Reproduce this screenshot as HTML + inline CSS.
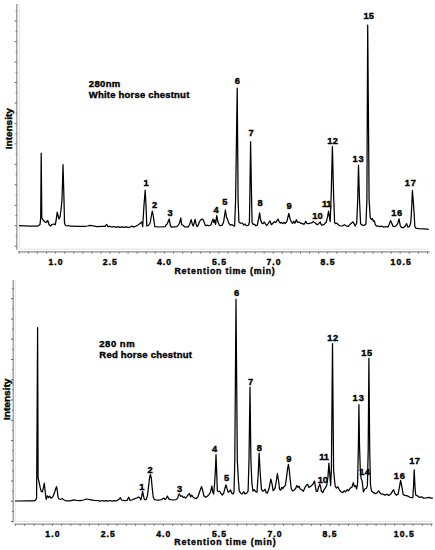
<!DOCTYPE html>
<html><head><meta charset="utf-8"><style>
html,body{margin:0;padding:0;background:#fff;width:435px;height:550px;overflow:hidden}
svg{display:block}
text{font-family:"Liberation Sans",sans-serif;font-weight:bold;fill:#000;stroke:#000;stroke-width:0.38px}
</style></head><body>
<svg width="435" height="550" viewBox="0 0 435 550">
<rect width="435" height="550" fill="#fff"/>
<line x1="19.3" y1="4" x2="19.3" y2="249.1" stroke="#e2e2e2" stroke-width="0.9"/>
<line x1="19.3" y1="249.1" x2="429.5" y2="249.1" stroke="#e4e4e4" stroke-width="1"/>
<line x1="16.8" y1="4" x2="16.8" y2="249.8" stroke="#8c8c8c" stroke-width="1.2"/>
<line x1="15.60" y1="10.9" x2="16.8" y2="10.9" stroke="#666" stroke-width="1"/>
<line x1="14.60" y1="21.1" x2="16.8" y2="21.1" stroke="#666" stroke-width="1"/>
<line x1="15.60" y1="31.4" x2="16.8" y2="31.4" stroke="#666" stroke-width="1"/>
<line x1="14.60" y1="41.6" x2="16.8" y2="41.6" stroke="#666" stroke-width="1"/>
<line x1="15.60" y1="51.8" x2="16.8" y2="51.8" stroke="#666" stroke-width="1"/>
<line x1="14.60" y1="62.1" x2="16.8" y2="62.1" stroke="#666" stroke-width="1"/>
<line x1="15.60" y1="72.3" x2="16.8" y2="72.3" stroke="#666" stroke-width="1"/>
<line x1="14.60" y1="82.5" x2="16.8" y2="82.5" stroke="#666" stroke-width="1"/>
<line x1="15.60" y1="92.7" x2="16.8" y2="92.7" stroke="#666" stroke-width="1"/>
<line x1="14.60" y1="103.0" x2="16.8" y2="103.0" stroke="#666" stroke-width="1"/>
<line x1="15.60" y1="113.2" x2="16.8" y2="113.2" stroke="#666" stroke-width="1"/>
<line x1="14.60" y1="123.4" x2="16.8" y2="123.4" stroke="#666" stroke-width="1"/>
<line x1="15.60" y1="133.7" x2="16.8" y2="133.7" stroke="#666" stroke-width="1"/>
<line x1="14.60" y1="143.9" x2="16.8" y2="143.9" stroke="#666" stroke-width="1"/>
<line x1="15.60" y1="154.1" x2="16.8" y2="154.1" stroke="#666" stroke-width="1"/>
<line x1="14.60" y1="164.4" x2="16.8" y2="164.4" stroke="#666" stroke-width="1"/>
<line x1="15.60" y1="174.6" x2="16.8" y2="174.6" stroke="#666" stroke-width="1"/>
<line x1="14.60" y1="184.8" x2="16.8" y2="184.8" stroke="#666" stroke-width="1"/>
<line x1="15.60" y1="195.0" x2="16.8" y2="195.0" stroke="#666" stroke-width="1"/>
<line x1="14.60" y1="205.3" x2="16.8" y2="205.3" stroke="#666" stroke-width="1"/>
<line x1="15.60" y1="215.5" x2="16.8" y2="215.5" stroke="#666" stroke-width="1"/>
<line x1="14.60" y1="225.7" x2="16.8" y2="225.7" stroke="#666" stroke-width="1"/>
<line x1="15.60" y1="236.0" x2="16.8" y2="236.0" stroke="#666" stroke-width="1"/>
<line x1="14.60" y1="246.2" x2="16.8" y2="246.2" stroke="#666" stroke-width="1"/>
<line x1="18" y1="251.9" x2="429.5" y2="251.9" stroke="#8c8c8c" stroke-width="1.15"/>
<line x1="19.3" y1="251.9" x2="19.3" y2="253.70000000000002" stroke="#666" stroke-width="0.9"/>
<line x1="28.4" y1="251.9" x2="28.4" y2="253.70000000000002" stroke="#666" stroke-width="0.9"/>
<line x1="37.4" y1="251.9" x2="37.4" y2="253.70000000000002" stroke="#666" stroke-width="0.9"/>
<line x1="46.5" y1="251.9" x2="46.5" y2="253.70000000000002" stroke="#666" stroke-width="0.9"/>
<line x1="55.6" y1="251.9" x2="55.6" y2="253.70000000000002" stroke="#666" stroke-width="0.9"/>
<line x1="64.7" y1="251.9" x2="64.7" y2="253.70000000000002" stroke="#666" stroke-width="0.9"/>
<line x1="73.7" y1="251.9" x2="73.7" y2="253.70000000000002" stroke="#666" stroke-width="0.9"/>
<line x1="82.8" y1="251.9" x2="82.8" y2="253.70000000000002" stroke="#666" stroke-width="0.9"/>
<line x1="91.9" y1="251.9" x2="91.9" y2="253.70000000000002" stroke="#666" stroke-width="0.9"/>
<line x1="100.9" y1="251.9" x2="100.9" y2="253.70000000000002" stroke="#666" stroke-width="0.9"/>
<line x1="110.0" y1="251.9" x2="110.0" y2="253.70000000000002" stroke="#666" stroke-width="0.9"/>
<line x1="119.1" y1="251.9" x2="119.1" y2="253.70000000000002" stroke="#666" stroke-width="0.9"/>
<line x1="128.1" y1="251.9" x2="128.1" y2="253.70000000000002" stroke="#666" stroke-width="0.9"/>
<line x1="137.2" y1="251.9" x2="137.2" y2="253.70000000000002" stroke="#666" stroke-width="0.9"/>
<line x1="146.3" y1="251.9" x2="146.3" y2="253.70000000000002" stroke="#666" stroke-width="0.9"/>
<line x1="155.4" y1="251.9" x2="155.4" y2="253.70000000000002" stroke="#666" stroke-width="0.9"/>
<line x1="164.4" y1="251.9" x2="164.4" y2="253.70000000000002" stroke="#666" stroke-width="0.9"/>
<line x1="173.5" y1="251.9" x2="173.5" y2="253.70000000000002" stroke="#666" stroke-width="0.9"/>
<line x1="182.6" y1="251.9" x2="182.6" y2="253.70000000000002" stroke="#666" stroke-width="0.9"/>
<line x1="191.6" y1="251.9" x2="191.6" y2="253.70000000000002" stroke="#666" stroke-width="0.9"/>
<line x1="200.7" y1="251.9" x2="200.7" y2="253.70000000000002" stroke="#666" stroke-width="0.9"/>
<line x1="209.8" y1="251.9" x2="209.8" y2="253.70000000000002" stroke="#666" stroke-width="0.9"/>
<line x1="218.8" y1="251.9" x2="218.8" y2="253.70000000000002" stroke="#666" stroke-width="0.9"/>
<line x1="227.9" y1="251.9" x2="227.9" y2="253.70000000000002" stroke="#666" stroke-width="0.9"/>
<line x1="237.0" y1="251.9" x2="237.0" y2="253.70000000000002" stroke="#666" stroke-width="0.9"/>
<line x1="246.1" y1="251.9" x2="246.1" y2="253.70000000000002" stroke="#666" stroke-width="0.9"/>
<line x1="255.1" y1="251.9" x2="255.1" y2="253.70000000000002" stroke="#666" stroke-width="0.9"/>
<line x1="264.2" y1="251.9" x2="264.2" y2="253.70000000000002" stroke="#666" stroke-width="0.9"/>
<line x1="273.3" y1="251.9" x2="273.3" y2="253.70000000000002" stroke="#666" stroke-width="0.9"/>
<line x1="282.3" y1="251.9" x2="282.3" y2="253.70000000000002" stroke="#666" stroke-width="0.9"/>
<line x1="291.4" y1="251.9" x2="291.4" y2="253.70000000000002" stroke="#666" stroke-width="0.9"/>
<line x1="300.5" y1="251.9" x2="300.5" y2="253.70000000000002" stroke="#666" stroke-width="0.9"/>
<line x1="309.5" y1="251.9" x2="309.5" y2="253.70000000000002" stroke="#666" stroke-width="0.9"/>
<line x1="318.6" y1="251.9" x2="318.6" y2="253.70000000000002" stroke="#666" stroke-width="0.9"/>
<line x1="327.7" y1="251.9" x2="327.7" y2="253.70000000000002" stroke="#666" stroke-width="0.9"/>
<line x1="336.8" y1="251.9" x2="336.8" y2="253.70000000000002" stroke="#666" stroke-width="0.9"/>
<line x1="345.8" y1="251.9" x2="345.8" y2="253.70000000000002" stroke="#666" stroke-width="0.9"/>
<line x1="354.9" y1="251.9" x2="354.9" y2="253.70000000000002" stroke="#666" stroke-width="0.9"/>
<line x1="364.0" y1="251.9" x2="364.0" y2="253.70000000000002" stroke="#666" stroke-width="0.9"/>
<line x1="373.0" y1="251.9" x2="373.0" y2="253.70000000000002" stroke="#666" stroke-width="0.9"/>
<line x1="382.1" y1="251.9" x2="382.1" y2="253.70000000000002" stroke="#666" stroke-width="0.9"/>
<line x1="391.2" y1="251.9" x2="391.2" y2="253.70000000000002" stroke="#666" stroke-width="0.9"/>
<line x1="400.2" y1="251.9" x2="400.2" y2="253.70000000000002" stroke="#666" stroke-width="0.9"/>
<line x1="409.3" y1="251.9" x2="409.3" y2="253.70000000000002" stroke="#666" stroke-width="0.9"/>
<line x1="418.4" y1="251.9" x2="418.4" y2="253.70000000000002" stroke="#666" stroke-width="0.9"/>
<line x1="427.5" y1="251.9" x2="427.5" y2="253.70000000000002" stroke="#666" stroke-width="0.9"/>
<line x1="15.2" y1="280" x2="15.2" y2="521.4" stroke="#e2e2e2" stroke-width="0.9"/>
<line x1="15.2" y1="521.4" x2="432.5" y2="521.4" stroke="#e4e4e4" stroke-width="1"/>
<line x1="13.2" y1="280" x2="13.2" y2="522.2" stroke="#8c8c8c" stroke-width="1.2"/>
<line x1="12.00" y1="288.6" x2="13.2" y2="288.6" stroke="#666" stroke-width="1"/>
<line x1="11.00" y1="298.7" x2="13.2" y2="298.7" stroke="#666" stroke-width="1"/>
<line x1="12.00" y1="308.9" x2="13.2" y2="308.9" stroke="#666" stroke-width="1"/>
<line x1="11.00" y1="319.0" x2="13.2" y2="319.0" stroke="#666" stroke-width="1"/>
<line x1="12.00" y1="329.1" x2="13.2" y2="329.1" stroke="#666" stroke-width="1"/>
<line x1="11.00" y1="339.2" x2="13.2" y2="339.2" stroke="#666" stroke-width="1"/>
<line x1="12.00" y1="349.4" x2="13.2" y2="349.4" stroke="#666" stroke-width="1"/>
<line x1="11.00" y1="359.5" x2="13.2" y2="359.5" stroke="#666" stroke-width="1"/>
<line x1="12.00" y1="369.6" x2="13.2" y2="369.6" stroke="#666" stroke-width="1"/>
<line x1="11.00" y1="379.8" x2="13.2" y2="379.8" stroke="#666" stroke-width="1"/>
<line x1="12.00" y1="389.9" x2="13.2" y2="389.9" stroke="#666" stroke-width="1"/>
<line x1="11.00" y1="400.0" x2="13.2" y2="400.0" stroke="#666" stroke-width="1"/>
<line x1="12.00" y1="410.2" x2="13.2" y2="410.2" stroke="#666" stroke-width="1"/>
<line x1="11.00" y1="420.3" x2="13.2" y2="420.3" stroke="#666" stroke-width="1"/>
<line x1="12.00" y1="430.4" x2="13.2" y2="430.4" stroke="#666" stroke-width="1"/>
<line x1="11.00" y1="440.6" x2="13.2" y2="440.6" stroke="#666" stroke-width="1"/>
<line x1="12.00" y1="450.7" x2="13.2" y2="450.7" stroke="#666" stroke-width="1"/>
<line x1="11.00" y1="460.8" x2="13.2" y2="460.8" stroke="#666" stroke-width="1"/>
<line x1="12.00" y1="470.9" x2="13.2" y2="470.9" stroke="#666" stroke-width="1"/>
<line x1="11.00" y1="481.1" x2="13.2" y2="481.1" stroke="#666" stroke-width="1"/>
<line x1="12.00" y1="491.2" x2="13.2" y2="491.2" stroke="#666" stroke-width="1"/>
<line x1="11.00" y1="501.3" x2="13.2" y2="501.3" stroke="#666" stroke-width="1"/>
<line x1="12.00" y1="511.5" x2="13.2" y2="511.5" stroke="#666" stroke-width="1"/>
<line x1="11.00" y1="521.6" x2="13.2" y2="521.6" stroke="#666" stroke-width="1"/>
<line x1="14.5" y1="524.1" x2="432.5" y2="524.1" stroke="#8c8c8c" stroke-width="1.15"/>
<line x1="15.4" y1="524.1" x2="15.4" y2="525.9" stroke="#666" stroke-width="0.9"/>
<line x1="24.6" y1="524.1" x2="24.6" y2="525.9" stroke="#666" stroke-width="0.9"/>
<line x1="33.9" y1="524.1" x2="33.9" y2="525.9" stroke="#666" stroke-width="0.9"/>
<line x1="43.1" y1="524.1" x2="43.1" y2="525.9" stroke="#666" stroke-width="0.9"/>
<line x1="52.4" y1="524.1" x2="52.4" y2="525.9" stroke="#666" stroke-width="0.9"/>
<line x1="61.6" y1="524.1" x2="61.6" y2="525.9" stroke="#666" stroke-width="0.9"/>
<line x1="70.9" y1="524.1" x2="70.9" y2="525.9" stroke="#666" stroke-width="0.9"/>
<line x1="80.1" y1="524.1" x2="80.1" y2="525.9" stroke="#666" stroke-width="0.9"/>
<line x1="89.4" y1="524.1" x2="89.4" y2="525.9" stroke="#666" stroke-width="0.9"/>
<line x1="98.6" y1="524.1" x2="98.6" y2="525.9" stroke="#666" stroke-width="0.9"/>
<line x1="107.9" y1="524.1" x2="107.9" y2="525.9" stroke="#666" stroke-width="0.9"/>
<line x1="117.1" y1="524.1" x2="117.1" y2="525.9" stroke="#666" stroke-width="0.9"/>
<line x1="126.4" y1="524.1" x2="126.4" y2="525.9" stroke="#666" stroke-width="0.9"/>
<line x1="135.6" y1="524.1" x2="135.6" y2="525.9" stroke="#666" stroke-width="0.9"/>
<line x1="144.9" y1="524.1" x2="144.9" y2="525.9" stroke="#666" stroke-width="0.9"/>
<line x1="154.1" y1="524.1" x2="154.1" y2="525.9" stroke="#666" stroke-width="0.9"/>
<line x1="163.4" y1="524.1" x2="163.4" y2="525.9" stroke="#666" stroke-width="0.9"/>
<line x1="172.6" y1="524.1" x2="172.6" y2="525.9" stroke="#666" stroke-width="0.9"/>
<line x1="181.9" y1="524.1" x2="181.9" y2="525.9" stroke="#666" stroke-width="0.9"/>
<line x1="191.1" y1="524.1" x2="191.1" y2="525.9" stroke="#666" stroke-width="0.9"/>
<line x1="200.4" y1="524.1" x2="200.4" y2="525.9" stroke="#666" stroke-width="0.9"/>
<line x1="209.6" y1="524.1" x2="209.6" y2="525.9" stroke="#666" stroke-width="0.9"/>
<line x1="218.9" y1="524.1" x2="218.9" y2="525.9" stroke="#666" stroke-width="0.9"/>
<line x1="228.1" y1="524.1" x2="228.1" y2="525.9" stroke="#666" stroke-width="0.9"/>
<line x1="237.4" y1="524.1" x2="237.4" y2="525.9" stroke="#666" stroke-width="0.9"/>
<line x1="246.6" y1="524.1" x2="246.6" y2="525.9" stroke="#666" stroke-width="0.9"/>
<line x1="255.9" y1="524.1" x2="255.9" y2="525.9" stroke="#666" stroke-width="0.9"/>
<line x1="265.1" y1="524.1" x2="265.1" y2="525.9" stroke="#666" stroke-width="0.9"/>
<line x1="274.4" y1="524.1" x2="274.4" y2="525.9" stroke="#666" stroke-width="0.9"/>
<line x1="283.6" y1="524.1" x2="283.6" y2="525.9" stroke="#666" stroke-width="0.9"/>
<line x1="292.9" y1="524.1" x2="292.9" y2="525.9" stroke="#666" stroke-width="0.9"/>
<line x1="302.1" y1="524.1" x2="302.1" y2="525.9" stroke="#666" stroke-width="0.9"/>
<line x1="311.4" y1="524.1" x2="311.4" y2="525.9" stroke="#666" stroke-width="0.9"/>
<line x1="320.6" y1="524.1" x2="320.6" y2="525.9" stroke="#666" stroke-width="0.9"/>
<line x1="329.9" y1="524.1" x2="329.9" y2="525.9" stroke="#666" stroke-width="0.9"/>
<line x1="339.1" y1="524.1" x2="339.1" y2="525.9" stroke="#666" stroke-width="0.9"/>
<line x1="348.4" y1="524.1" x2="348.4" y2="525.9" stroke="#666" stroke-width="0.9"/>
<line x1="357.6" y1="524.1" x2="357.6" y2="525.9" stroke="#666" stroke-width="0.9"/>
<line x1="366.9" y1="524.1" x2="366.9" y2="525.9" stroke="#666" stroke-width="0.9"/>
<line x1="376.1" y1="524.1" x2="376.1" y2="525.9" stroke="#666" stroke-width="0.9"/>
<line x1="385.4" y1="524.1" x2="385.4" y2="525.9" stroke="#666" stroke-width="0.9"/>
<line x1="394.6" y1="524.1" x2="394.6" y2="525.9" stroke="#666" stroke-width="0.9"/>
<line x1="403.9" y1="524.1" x2="403.9" y2="525.9" stroke="#666" stroke-width="0.9"/>
<line x1="413.1" y1="524.1" x2="413.1" y2="525.9" stroke="#666" stroke-width="0.9"/>
<line x1="422.4" y1="524.1" x2="422.4" y2="525.9" stroke="#666" stroke-width="0.9"/>
<line x1="431.6" y1="524.1" x2="431.6" y2="525.9" stroke="#666" stroke-width="0.9"/>
<path d="M19,225.6 L30,226.2 L37,226.2 L38,226 L40,224.5 L40.7,217.5 L41.2,153.1 L41.8,218 L43,220 L45,222 L46,222.5 L47.8,220.5 L49,224.5 L50.5,226.2 L52,224.5 L54,224 L55.2,224.8 L56.2,220 L57.2,212.2 L59,219 L60,217 L61,210 L62,200 L63,164.7 L64,200 L64.5,223 L65.5,225.5 L67,226 L68.5,225.5 L70,226.2 L80,226.3 L85,226.3 L87.5,226 L90,225.3 L93,225.9 L97,226.6 L102,226.4 L105,226.3 L106.6,224.4 L108,226.6 L110,226.3 L112,227.2 L114,226.5 L116,227.3 L118,226.6 L120,227.3 L122,226.8 L124,227.4 L126,226.8 L128,227.3 L130,227.1 L132,226 L133.4,227.1 L136.2,226 L138.3,224.7 L140.3,223.3 L141.7,221.9 L142.7,226.7 L144,205 L145.2,190.2 L146.2,210 L146.8,226 L148.5,225.5 L150.3,222.5 L151.3,216 L152.3,211.1 L153.3,216 L154.2,222.5 L154.8,226.7 L160,227 L165.2,226.7 L166.1,224.7 L167.2,224 L168.4,221 L169.3,218.9 L170.3,225.3 L171.4,227.1 L176.9,226.7 L178.6,224.7 L179.4,223.3 L180.8,218 L181.7,224.7 L183.1,225.3 L184.5,226.7 L187.2,227.1 L188.6,226.6 L189.7,224.3 L191.2,219.7 L192.4,224.3 L193.2,226 L194.3,222.6 L195.1,219.4 L196,223.7 L197,226.6 L198.1,225.5 L199.3,222 L200.4,220.3 L201.8,219.1 L202.9,219.4 L204.1,222 L205.2,225.1 L206.2,225.8 L207.3,225.1 L208.5,225.8 L209.6,225.5 L211,224.7 L212.1,221.4 L213.1,219.1 L213.9,222.6 L214.7,220 L215.6,224.3 L216.7,215.5 L218.1,222.6 L219.3,225.1 L220.8,225.8 L222.3,225.1 L223.6,222 L225.4,210 L226.5,217.4 L227.3,218.6 L228.2,221.4 L229.1,223.7 L230.3,225.1 L231.4,224.7 L232.6,225.1 L233.7,225.8 L234.6,226 L235.6,200 L237.2,88.1 L238.1,200 L238.9,222 L240.4,223.2 L242.3,223.2 L243.8,225.1 L245,224 L246.1,225.5 L247.5,225.5 L248.6,225.1 L249.4,222 L249.8,200 L250.6,141.7 L251.6,200 L252.1,222.6 L253.2,224.3 L254.4,224.3 L255.8,225.8 L257.3,225.1 L258.8,218 L259.6,212.8 L260.7,220.3 L261.9,223.2 L263,223.7 L264.2,222 L265.3,223.7 L266.8,225.5 L268.2,223.5 L269.9,220.9 L271.4,224.7 L272.8,223.2 L274.5,221.7 L275.7,222.6 L276.8,220.9 L278,219.1 L279.1,221.7 L280.3,223.2 L281.4,222.4 L282.6,223.5 L284,222.6 L285.1,223.5 L286.9,221.4 L288.8,213.4 L290.3,219.7 L291.5,222 L292.6,223.5 L293.8,221.4 L294.9,223.2 L296.4,219.7 L297.6,222.4 L298.9,222 L300.7,223.2 L302.4,223.7 L304.1,224.3 L305.8,221.2 L307,223.5 L308.7,223.7 L310.4,223.2 L312.2,222.6 L313.3,221.4 L314.5,222.6 L316,223.7 L317.3,224.7 L318.7,223.7 L320.2,222 L321.4,225.1 L323.1,224.9 L324.8,223.7 L326.3,222 L327.4,217.4 L328.6,211.1 L329.7,219.1 L330.2,221.4 L331.2,195 L332.4,146.3 L333.6,195 L334.6,222.6 L335.7,223.7 L336.9,223.2 L338.6,225.1 L340.9,226 L342.6,225.8 L344.4,224.7 L346.1,225.8 L348.4,226.3 L350.7,223.7 L352.8,222 L354.1,223.7 L355.1,226 L356.7,223.2 L357.7,200 L358.5,165.1 L359.5,200 L360.6,223.7 L362.8,225.5 L364.5,225.1 L365.9,224.3 L366.9,200 L367.7,25.1 L369.1,200 L370.3,218 L371.6,219.7 L372.5,218.6 L373.4,221.4 L374.3,220.9 L375.4,224.9 L376.6,226 L378.3,226 L380,226.7 L381.9,226.2 L383.9,227.1 L385.9,226.5 L387.8,227.1 L389.1,224.5 L390.5,220.6 L391.8,223.2 L393.1,226.5 L394.4,226.7 L396.3,225.4 L397.7,223.6 L399,218.9 L400.3,225.8 L401.6,227.5 L403.6,227.5 L405.5,225.8 L406.6,223.6 L407.9,227.1 L409.5,226.5 L410.8,222.5 L411.8,205.5 L412.4,190.3 L413.4,202.9 L414.2,215 L414.8,226 L415.7,228.2 L418.6,228.6 L423.9,228.9 L428.7,229.3" fill="none" stroke="#000" stroke-width="1.25" stroke-linejoin="round"/>
<path d="M15,501 L28,500.8 L33.7,500.8 L35.8,500.1 L36.6,497.6 L37.2,400 L37.6,327.7 L38.1,478 L38.9,481.5 L40.1,487.2 L41.2,491.3 L42.4,491.8 L43.5,487.2 L44.3,483.2 L45.2,491.8 L46.2,499.3 L47.3,495.9 L48.5,497.6 L49.6,496.2 L51,498.2 L52.7,497 L54.2,493.6 L55.6,489 L56.5,486.7 L57.3,490.7 L58.1,497.6 L59,499 L60.8,499.3 L62.3,498.5 L63.6,499.7 L65.9,500.8 L70,500.8 L72.8,500.1 L74.6,499.9 L76.3,500.5 L80.1,500.7 L83.6,500 L86.3,499 L89.8,499.6 L93.9,500.4 L98.1,500.7 L100,501.1 L102,500.5 L104,501.2 L106,500.6 L108,501.1 L110,500.5 L112,501.1 L114,500.6 L116,501 L117.4,500.4 L119,499.3 L120.4,497.7 L121.5,500 L124.3,500.7 L127,500.4 L128.7,497.2 L130.1,500.4 L131.7,500 L133.4,499.2 L135.2,498.6 L136.9,498 L138.6,496.9 L139.8,498 L140.9,499.8 L141.7,496.3 L142.6,491.5 L143.6,496.3 L144.4,499.6 L146.2,499.6 L147.5,495.5 L148.6,486 L149.6,477.5 L150.4,474.5 L151.3,478 L152.2,488 L153.2,497 L154.3,499.6 L157,500 L159.3,500 L161.6,499.6 L163.9,498.1 L165.1,499.6 L166.2,498.6 L167.4,496.1 L168.5,498.6 L170.2,499.6 L173.1,500 L176,499.6 L177.7,498.1 L178.6,494.5 L179.2,494 L179.8,494.8 L180.9,496.3 L182,495.8 L183.2,497.5 L184.3,496.9 L185.5,498.1 L187,496.3 L188.3,494.6 L189.5,493.5 L190.6,496.9 L191.8,495.2 L193.2,497.3 L194.7,498.1 L196.4,498.6 L198.1,496.3 L199.8,491.2 L201.6,486.6 L202.7,490.6 L203.9,495.8 L205.6,497.3 L207.3,496.3 L209,494.6 L210.4,492.3 L211.9,486 L212.7,491.7 L213.6,494 L214.6,484 L215.4,470 L216,454.7 L216.6,470 L217,481.4 L217.3,490.6 L218.5,491.7 L219.6,491.2 L220.8,493.1 L222.3,495.2 L223.7,493.1 L225.1,487.7 L226,484.8 L227.1,488.9 L228.3,492.3 L229.4,491.5 L230.6,490 L231.7,493.1 L233.1,494 L234,492.3 L234.8,460 L236,299.1 L237.3,460 L238.4,480.2 L239.2,490.6 L240.4,492.9 L242.1,494 L243.8,491.7 L245,494 L246.7,493.1 L248.1,491.2 L249,460 L250,387.1 L250.9,460 L251.9,483.7 L253,491.2 L254.2,489.7 L255.7,491.7 L257,492.3 L258.2,474.5 L259.1,453.1 L260.3,474.5 L261.4,488.9 L262.6,491.2 L263.9,490.6 L265.1,489.2 L266.2,492.7 L267.4,493.1 L269.1,488.3 L270.8,479.1 L272,483.7 L273.1,490.6 L274.2,489.5 L275.1,487.9 L276.3,481 L277.4,473.5 L278.6,481 L279.5,489 L280.7,490.2 L281.8,487.3 L283,488.5 L284.1,486.7 L285.3,485.6 L286.4,478.1 L287.6,468.9 L288.4,464.3 L289.2,469.5 L290.1,478.7 L291.2,488.5 L292.4,490.8 L294.1,490.2 L295.6,488.5 L296.8,485.6 L297.9,487.3 L299.1,486.2 L300.2,489 L301.6,489.6 L303.3,491.3 L304.8,487.9 L306.4,485 L307.6,484.4 L308.7,487.3 L310.2,486.7 L311.7,485.6 L313.1,483.9 L314.5,481 L315.4,486.7 L316.3,491.3 L317.4,491.3 L318.6,487.3 L319.7,483.9 L320.6,486.7 L321.4,491.3 L322.9,492.5 L323.7,490.2 L325.4,487.9 L326.8,485 L328,476.4 L328.9,463.2 L329.8,474.1 L330.6,485.6 L331.4,470 L332.5,343.7 L333.6,470 L334.4,478.7 L335.2,486.2 L336.4,488.1 L337.9,486.7 L339.2,489.6 L341,491.9 L342.7,492.5 L344.4,490.8 L345.6,491.9 L347.1,489.6 L348.4,490.8 L350.2,488.1 L351.9,487.3 L353.3,482.7 L354.4,486.7 L355.6,485.6 L356.7,489 L357.6,483.3 L358.4,445 L358.9,404.7 L359.5,445 L360.3,470 L361.1,478.7 L362,480.4 L362.8,486.7 L363.4,491.9 L364.8,489 L366.3,488.5 L367.4,485.6 L368.2,450 L368.9,358.3 L369.7,450 L370.5,485 L371.5,490.9 L373.3,492.4 L375.2,493.6 L376.7,493.1 L378.7,490.9 L380.5,493.6 L382.7,494.2 L385,495.1 L386.7,494.2 L388.7,495.4 L390.9,493.9 L392.7,490.9 L393.6,489.7 L394.7,493.1 L396.2,495.1 L398.1,494.2 L399.3,487.9 L400.6,480.4 L402.1,487.9 L403.2,494.6 L405.1,495.4 L408.1,496.2 L410,497.3 L412.8,497.7 L413.5,487 L414.2,469.9 L415,487 L415.7,495 L417,495.6 L419.3,497.3 L421.4,496.9 L423.8,498.1 L426.3,497.9 L428.7,497.3 L431.2,498.1 L432.8,498.1" fill="none" stroke="#000" stroke-width="1.25" stroke-linejoin="round"/>
<text x="88.80" y="86.60" font-size="9.5" textLength="31.50" lengthAdjust="spacing" text-anchor="start">280nm</text>
<text x="88.80" y="97.60" font-size="9.5" textLength="100.50" lengthAdjust="spacing" text-anchor="start">White horse chestnut</text>
<text x="99.30" y="346.60" font-size="9.5" textLength="35.30" lengthAdjust="spacing" text-anchor="start">280 nm</text>
<text x="99.30" y="357.60" font-size="9.5" textLength="92.60" lengthAdjust="spacing" text-anchor="start">Red horse chestnut</text>
<text x="55.50" y="264.80" font-size="8.6" textLength="14.20" lengthAdjust="spacing" text-anchor="middle">1.0</text>
<text x="109.80" y="264.80" font-size="8.6" textLength="14.20" lengthAdjust="spacing" text-anchor="middle">2.5</text>
<text x="164.00" y="264.80" font-size="8.6" textLength="14.20" lengthAdjust="spacing" text-anchor="middle">4.0</text>
<text x="219.00" y="264.80" font-size="8.6" textLength="14.20" lengthAdjust="spacing" text-anchor="middle">5.5</text>
<text x="273.50" y="264.80" font-size="8.6" textLength="14.20" lengthAdjust="spacing" text-anchor="middle">7.0</text>
<text x="327.50" y="264.80" font-size="8.6" textLength="14.20" lengthAdjust="spacing" text-anchor="middle">8.5</text>
<text x="400.70" y="264.80" font-size="8.6" textLength="20.20" lengthAdjust="spacing" text-anchor="middle">10.5</text>
<text x="52.40" y="536.80" font-size="8.6" textLength="14.20" lengthAdjust="spacing" text-anchor="middle">1.0</text>
<text x="107.80" y="536.80" font-size="8.6" textLength="14.20" lengthAdjust="spacing" text-anchor="middle">2.5</text>
<text x="163.30" y="536.80" font-size="8.6" textLength="14.20" lengthAdjust="spacing" text-anchor="middle">4.0</text>
<text x="219.00" y="536.80" font-size="8.6" textLength="14.20" lengthAdjust="spacing" text-anchor="middle">5.5</text>
<text x="274.50" y="536.80" font-size="8.6" textLength="14.20" lengthAdjust="spacing" text-anchor="middle">7.0</text>
<text x="329.50" y="536.80" font-size="8.6" textLength="14.20" lengthAdjust="spacing" text-anchor="middle">8.5</text>
<text x="403.80" y="536.80" font-size="8.6" textLength="20.20" lengthAdjust="spacing" text-anchor="middle">10.5</text>
<text x="174.40" y="273.90" font-size="8.8" textLength="100.40" lengthAdjust="spacing" text-anchor="start">Retention time (min)</text>
<text x="174.20" y="545.20" font-size="8.8" textLength="101.40" lengthAdjust="spacing" text-anchor="start">Retention time (min)</text>
<text transform="translate(11.8,149.2) rotate(-90)" font-size="9.2" textLength="41" lengthAdjust="spacingAndGlyphs">Intensity</text>
<text transform="translate(9.5,420.1) rotate(-90)" font-size="9.2" textLength="41.6" lengthAdjust="spacingAndGlyphs">Intensity</text>
<text x="146.20" y="186.00" font-size="9.3" text-anchor="middle">1</text>
<text x="154.50" y="208.00" font-size="9.3" text-anchor="middle">2</text>
<text x="170.00" y="216.00" font-size="9.3" text-anchor="middle">3</text>
<text x="216.00" y="212.70" font-size="9.3" text-anchor="middle">4</text>
<text x="224.75" y="205.10" font-size="9.3" text-anchor="middle">5</text>
<text x="237.40" y="84.00" font-size="9.3" text-anchor="middle">6</text>
<text x="251.20" y="135.60" font-size="9.3" text-anchor="middle">7</text>
<text x="260.00" y="206.00" font-size="9.3" text-anchor="middle">8</text>
<text x="289.00" y="209.00" font-size="9.3" text-anchor="middle">9</text>
<text x="317.40" y="219.20" font-size="9.3" textLength="10.40" lengthAdjust="spacing" text-anchor="middle">10</text>
<text x="326.70" y="207.30" font-size="9.3" textLength="9.40" lengthAdjust="spacing" text-anchor="middle">11</text>
<text x="332.60" y="144.20" font-size="9.3" textLength="10.80" lengthAdjust="spacing" text-anchor="middle">12</text>
<text x="358.10" y="161.80" font-size="9.3" textLength="11.00" lengthAdjust="spacing" text-anchor="middle">13</text>
<text x="368.60" y="18.60" font-size="9.3" textLength="10.40" lengthAdjust="spacing" text-anchor="middle">15</text>
<text x="396.70" y="215.60" font-size="9.3" textLength="11.00" lengthAdjust="spacing" text-anchor="middle">16</text>
<text x="410.30" y="186.40" font-size="9.3" textLength="11.00" lengthAdjust="spacing" text-anchor="middle">17</text>
<text x="141.80" y="490.00" font-size="9.3" text-anchor="middle">1</text>
<text x="150.10" y="473.00" font-size="9.3" text-anchor="middle">2</text>
<text x="179.70" y="491.60" font-size="9.3" text-anchor="middle">3</text>
<text x="214.50" y="452.00" font-size="9.3" text-anchor="middle">4</text>
<text x="226.70" y="481.00" font-size="9.3" text-anchor="middle">5</text>
<text x="236.60" y="296.40" font-size="9.3" text-anchor="middle">6</text>
<text x="250.50" y="385.40" font-size="9.3" text-anchor="middle">7</text>
<text x="259.40" y="451.00" font-size="9.3" text-anchor="middle">8</text>
<text x="288.80" y="462.40" font-size="9.3" text-anchor="middle">9</text>
<text x="322.80" y="483.00" font-size="9.3" textLength="10.00" lengthAdjust="spacing" text-anchor="middle">10</text>
<text x="324.00" y="460.00" font-size="9.3" textLength="9.60" lengthAdjust="spacing" text-anchor="middle">11</text>
<text x="332.70" y="341.00" font-size="9.3" textLength="11.00" lengthAdjust="spacing" text-anchor="middle">12</text>
<text x="358.20" y="401.40" font-size="9.3" textLength="11.20" lengthAdjust="spacing" text-anchor="middle">13</text>
<text x="364.50" y="475.00" font-size="9.3" textLength="10.60" lengthAdjust="spacing" text-anchor="middle">14</text>
<text x="366.70" y="356.00" font-size="9.3" textLength="11.00" lengthAdjust="spacing" text-anchor="middle">15</text>
<text x="399.30" y="479.00" font-size="9.3" textLength="11.00" lengthAdjust="spacing" text-anchor="middle">16</text>
<text x="414.50" y="463.60" font-size="9.3" textLength="10.60" lengthAdjust="spacing" text-anchor="middle">17</text>
</svg>
</body></html>
